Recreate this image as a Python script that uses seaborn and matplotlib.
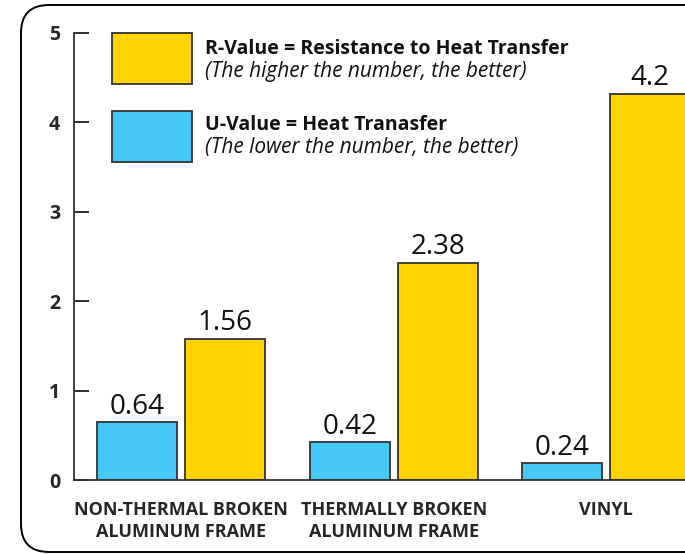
import matplotlib
matplotlib.use("Agg")
import matplotlib.pyplot as plt
from matplotlib.patches import Rectangle, FancyBboxPatch
from matplotlib.transforms import ScaledTranslation
import pandas as pd
import seaborn as sns

# data
categories = ["NON-THERMAL BROKEN\nALUMINUM FRAME", "THERMALLY BROKEN\nALUMINUM FRAME", "VINYL"]
u_values = [0.65, 0.42, 0.19]
r_values = [1.58, 2.43, 4.32]
u_labels = ["0.64", "0.42", "0.24"]
r_labels = ["1.56", "2.38", "4.2"]
series = ["U-Value", "R-Value"]
y_ticks = [0, 1, 2, 3, 4, 5]

CYAN = "#45C8F5"
YELLOW = "#FFD300"
EDGE = "#333333"

df = pd.DataFrame({
    "category": categories * 2,
    "series": [series[0]] * 3 + [series[1]] * 3,
    "value": u_values + r_values,
})

sns.set_style("ticks", {"ytick.direction": "in", "ytick.left": True})
plt.rcParams["font.family"] = ["Open Sans", "DejaVu Sans"]

W, H = 685, 554
fig = plt.figure(figsize=(W / 100, H / 100), dpi=100)

# rounded frame, right side runs off the image
frame = FancyBboxPatch((0.21, 0.02), 7.0, 5.47,
                       boxstyle="round,pad=0,rounding_size=0.28",
                       transform=fig.dpi_scale_trans, fill=False,
                       edgecolor="black", linewidth=1.4)
fig.patches.append(frame)

ax = fig.add_axes([74 / W, (H - 480) / H, (W - 74) / W, (480 - 33) / H])
sns.barplot(data=df, x="category", y="value", hue="series", order=categories,
            hue_order=series, palette=[CYAN, YELLOW], width=0.828, gap=0.092,
            edgecolor=EDGE, linewidth=1.3, saturation=1, legend=False, ax=ax)

for cont, labs in zip(ax.containers, [u_labels, r_labels]):
    ax.bar_label(cont, labels=labs, padding=1, fontsize=20, color="#111111")

sns.despine(ax=ax, top=True, right=True)
ax.set_xlim(-0.505, 2.37)
ax.set_ylim(0, 5)
ax.set_yticks(y_ticks)
ax.set_yticklabels([str(t) for t in y_ticks], fontsize=14, fontweight="bold")
ax.set_xlabel("")
ax.set_ylabel("")
# the category captions sit a little off the group centres in the original
label_shift_px = [-9, 11, 5]
for lab, dx in zip(ax.get_xticklabels(), label_shift_px):
    lab.set_fontweight("bold")
    lab.set_fontsize(13)
    lab.set_linespacing(1.3)
    lab.set_transform(lab.get_transform() + ScaledTranslation(dx / 100, 0, fig.dpi_scale_trans))
ax.tick_params(axis="y", left=True, direction="in", length=11, width=1.3,
               color=EDGE, pad=10)
ax.tick_params(axis="x", bottom=False, length=0, pad=15)
# inward tick marks, drawn explicitly so they always show
ax.hlines(y_ticks[1:], 0, 15 / (W - 74), transform=ax.get_yaxis_transform(),
          colors=EDGE, linewidth=1.3, clip_on=False, zorder=5)
ax.spines["left"].set_color(EDGE)
ax.spines["left"].set_linewidth(1.3)
ax.spines["bottom"].set_color(EDGE)
ax.spines["bottom"].set_linewidth(1.3)
ax.patch.set_alpha(0)

# legend drawn by hand: coloured boxes with bold title and italic note
legend_rows = [
    (YELLOW, "R-Value = Resistance to Heat Transfer", "(The higher the number, the better)", 33, 54, 77),
    (CYAN, "U-Value = Heat Tranasfer", "(The lower the number, the better)", 111, 130, 153),
]
for color, title, note, top, y1, y2 in legend_rows:
    fig.patches.append(Rectangle((112 / W, (H - top - 51) / H), 80 / W, 51 / H,
                                 transform=fig.transFigure, facecolor=color,
                                 edgecolor=EDGE, linewidth=1.3))
    fig.text(205 / W, (H - y1) / H, title, fontsize=14, fontweight="bold",
             va="baseline", ha="left", color="#111111")
    fig.text(205 / W, (H - y2) / H, note, fontsize=15, style="italic",
             va="baseline", ha="left", color="#111111")

fig.savefig("out.png", dpi=100)
